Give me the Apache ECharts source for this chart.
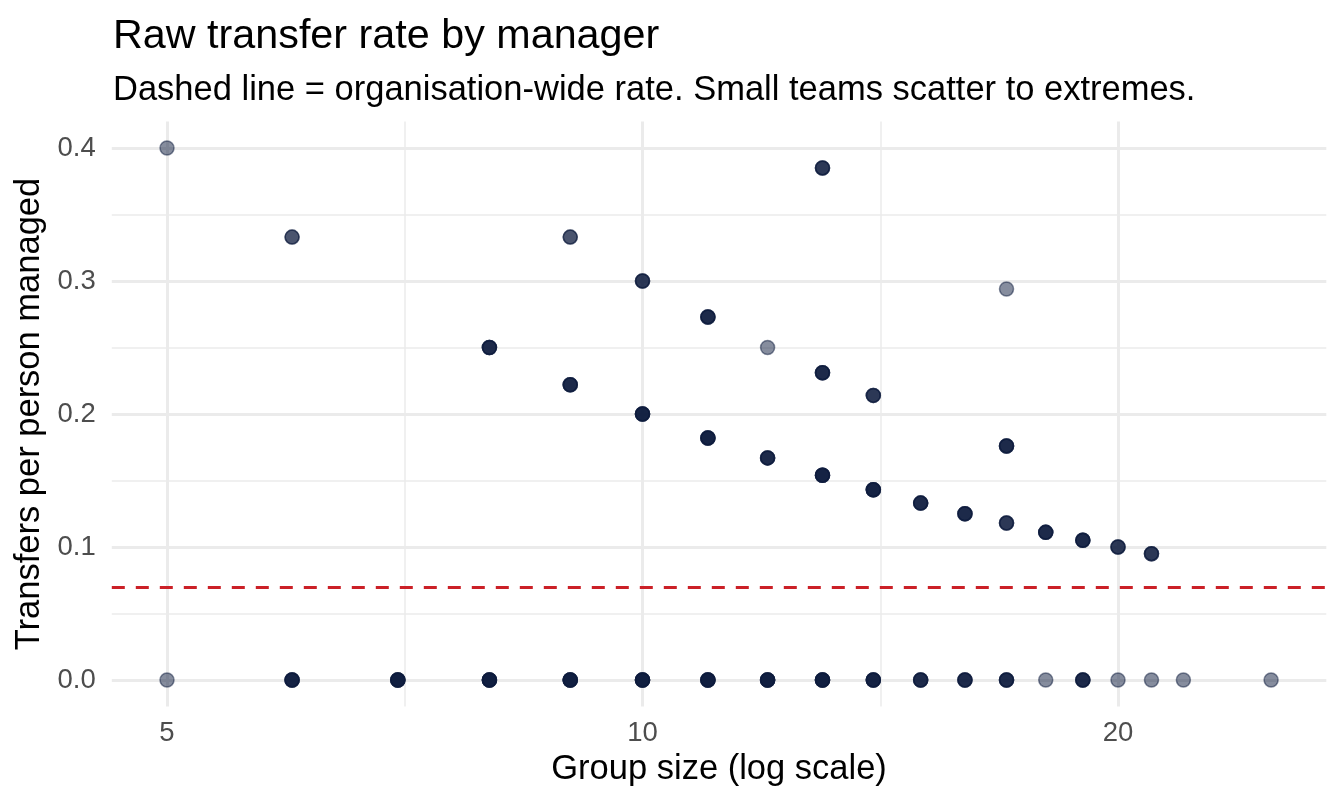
<!DOCTYPE html>
<html>
<head>
<meta charset="utf-8">
<script src="https://cdn.jsdelivr.net/npm/echarts@6/dist/echarts.min.js"></script>
<style>
html,body{margin:0;padding:0;background:#fff;}
#chart{width:1344px;height:806px;}
</style>
</head>
<body>
<div id="chart"></div>
<script>
// one row per (group size, rate) pair; count = how many managers sit on that spot
var groupSize    = [5,   5, 6,     6, 7, 8,    8, 9,     9,     9, 10,  10,  10, 11,    11,    11, 12,   12,    12, 13,    13,    13,    13, 14,    14,    14, 15,    15, 16,    16, 17,    17,    17,    17, 18,    18, 19,    19, 20,  20, 21,    21, 22, 25];
var transferRate = [0.4, 0, 0.333, 0, 0, 0.25, 0, 0.333, 0.222, 0, 0.3, 0.2, 0, 0.273, 0.182, 0, 0.25, 0.167, 0, 0.385, 0.231, 0.154, 0, 0.214, 0.143, 0, 0.133, 0, 0.125, 0, 0.294, 0.176, 0.118, 0, 0.111, 0, 0.105, 0, 0.1, 0, 0.095, 0, 0,  0];
var managerCount = [1,   1, 2,     5, 6, 4,    6, 2,     4,     6, 3,   5,   6, 4,     5,     6, 1,    4,     6, 3,     4,     5,     6, 3,     5,     5, 4,     4, 4,     4, 1,     4,     3,     4, 4,     1, 4,     4, 3,   1, 3,     1, 1,  1];
var orgRate = 0.0675;

var xMajor = [5, 10, 20];
var xMinor = [Math.sqrt(50), Math.sqrt(200)];
var yMajor = [0, 0.1, 0.2, 0.3, 0.4];
var yMinor = [0.05, 0.15, 0.25, 0.35];

var points = [];
groupSize.forEach(function(n, i){
    for (var k = 0; k < managerCount[i]; k++) points.push([n, transferRate[i]]);
});

var FONT = '"Liberation Sans", Arial, Helvetica, sans-serif';
var GRID = '#EBEBEB';

function xAxis(ticks, lineW, main){
    return {
        type: 'log', logBase: 2, min: 4.6134, max: 27.095,
        position: 'bottom',
        name: main ? 'Group size (log scale)' : '',
        nameLocation: 'middle', nameGap: 43,
        nameTextStyle: {fontFamily: FONT, fontSize: 34.5, color: '#000', lineHeight: 34.5},
        axisLine: {show: false},
        axisTick: {show: false, customValues: ticks},
        axisLabel: {show: main, customValues: ticks, margin: 13,
            fontFamily: FONT, fontSize: 27.5, color: '#4D4D4D', lineHeight: 27.5},
        splitLine: {show: true, lineStyle: {color: GRID, width: lineW}},
        minorSplitLine: {show: false}
    };
}
function yAxis(ticks, lineW, main){
    return {
        type: 'value', min: -0.02, max: 0.42,
        position: 'left',
        name: main ? 'Transfers per person managed' : '',
        nameLocation: 'middle', nameGap: 61,
        nameTextStyle: {fontFamily: FONT, fontSize: 34.5, color: '#000', lineHeight: 34.5},
        axisLine: {show: false},
        axisTick: {show: false, customValues: ticks},
        axisLabel: {show: main, customValues: ticks, margin: 16,
            formatter: function(v){ return v.toFixed(1); },
            fontFamily: FONT, fontSize: 27.5, color: '#4D4D4D', lineHeight: 27.5},
        splitLine: {show: true, lineStyle: {color: GRID, width: lineW}}
    };
}

var chart = echarts.init(document.getElementById('chart'), null, {renderer: 'canvas'});
chart.setOption({
    animation: false,
    backgroundColor: '#fff',
    title: [
        {text: 'Raw transfer rate by manager', left: 113, top: 16, padding: 0,
         textStyle: {fontFamily: FONT, fontSize: 41.3, fontWeight: 'normal', color: '#000', lineHeight: 41.3}},
        {text: 'Dashed line = organisation-wide rate. Small teams scatter to extremes.', left: 113, top: 73, padding: 0,
         textStyle: {fontFamily: FONT, fontSize: 34.5, fontWeight: 'normal', color: '#000', lineHeight: 34.5}}
    ],
    grid: {left: 111.8, right: 17.7, top: 121.4, bottom: 99.4, containLabel: false, outerBoundsMode: 'none'},
    xAxis: [xAxis(xMinor, 1.5, false), xAxis(xMajor, 3, true)],
    yAxis: [yAxis(yMinor, 1.5, false), yAxis(yMajor, 3, true)],
    series: [{
        type: 'scatter',
        xAxisIndex: 1, yAxisIndex: 1,
        data: points,
        symbol: 'circle',
        symbolSize: 14,
        itemStyle: {color: '#0D1B3E', opacity: 0.5, borderColor: '#0D1B3E', borderWidth: 1.5},
        silent: true,
        z: 3,
        markLine: {
            silent: true, symbol: 'none',
            label: {show: false},
            lineStyle: {color: '#CB2027', width: 3, type: [13, 11], opacity: 1},
            data: [{yAxis: orgRate}],
            z: 2
        }
    }]
});
</script>
</body>
</html>
